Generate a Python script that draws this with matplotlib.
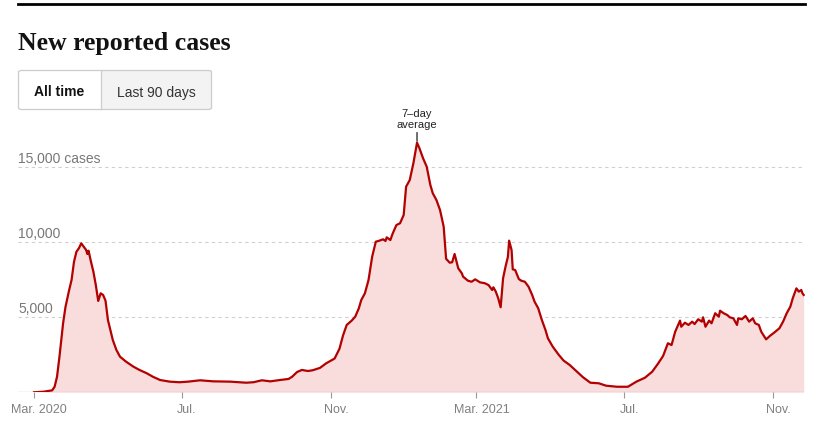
import matplotlib
matplotlib.use("Agg")
import matplotlib.pyplot as plt
import matplotlib.transforms as mtransforms
from matplotlib.lines import Line2D
from matplotlib.patches import FancyBboxPatch, Rectangle
import pandas as pd

# ---- data ----
start_date = "2020-03-01"
day_offsets = [
    0, 8, 15, 17, 19, 21, 24, 26, 29, 31, 33, 35, 37, 39, 41, 43, 44, 45, 47, 49,
    51, 53, 55, 57, 59, 61, 63, 65, 68, 71, 76, 82, 87, 93, 98, 104, 112, 120, 127,
    137, 148, 162, 175, 181, 188, 195, 203, 210, 213, 217, 221, 226, 230, 236, 241,
    248, 252, 255, 258, 262, 265, 268, 270, 273, 276, 279, 282, 285, 288, 290, 291,
    294, 296, 299, 302, 305, 307, 310, 313, 316, 318, 321, 324, 327, 329, 332, 335,
    338, 340, 343, 345, 347, 350, 353, 354, 358, 361, 364, 368, 372, 375, 378, 379,
    381, 383, 385, 387, 389, 391, 392, 394, 395, 397, 400, 402, 405, 408, 411, 413,
    416, 419, 422, 424, 428, 433, 437, 442, 448, 453, 459, 466, 472, 481, 490, 497,
    504, 510, 515, 519, 523, 526, 529, 533, 534, 537, 540, 543, 545, 548, 551, 552,
    554, 557, 559, 562, 565, 566, 569, 572, 574, 577, 580, 581, 584, 587, 590, 593,
    595, 598, 600, 604, 607, 611, 615, 618, 621, 624, 626, 629, 631, 633, 634, 635,
]
avg_cases = [
    0, 40, 130, 370, 1040, 2370, 4600, 5700, 6820, 7490, 8700, 9370, 9600, 9930,
    9710, 9490, 9220, 9440, 8710, 8040, 7150, 6090, 6600, 6490, 6110, 4820, 4150,
    3490, 2820, 2370, 2040, 1710, 1490, 1270, 1040, 820, 710, 670, 710,
    800, 730, 710, 640, 670, 800, 730, 820, 890, 1040, 1350, 1490, 1420, 1470, 1630,
    1930, 2250, 2900, 3800, 4490, 4770, 5040, 5600, 6150, 6600, 7490, 9040, 10040,
    10110, 10200, 10090, 10330, 10150, 10600, 11150, 11270, 11820, 13710, 14150,
    15270, 16640, 16270, 15600, 15040, 13820, 13270, 12820, 12150, 11040, 8900,
    8640, 8670, 9220, 8270, 7930, 7710, 7440, 7370, 7530, 7330, 7270, 7150, 6820,
    7000, 6710, 6270, 5670, 7600, 8370, 9040, 10110, 9490, 8200, 8150, 7550, 7440,
    7370, 7040, 6490, 6040, 5600, 4820, 4150, 3600, 3040, 2490, 2110, 1820, 1370,
    1000, 640, 600, 440, 370, 370, 710, 970, 1370, 1930, 2420, 3270, 3150, 4040,
    4780, 4370, 4640, 4490, 4710, 4550, 4870, 4710, 5000, 4370, 4780, 4600, 5270,
    5040, 5440, 5270, 5150, 5000, 4930, 4490, 4930, 4870, 5090, 4710, 4930, 4600,
    4490, 4040, 3530, 3750, 4000, 4270, 4710, 5270, 5710, 6270, 6930, 6710, 6820,
    6600, 6490,
]
y_ticks = [5000, 10000, 15000]
y_tick_labels = ["5,000", "10,000", "15,000 cases"]
x_tick_dates = ["2020-03-01", "2020-07-01", "2020-11-01", "2021-03-01", "2021-07-01", "2021-11-01"]
x_tick_labels = ["Mar. 2020", "Jul.", "Nov.", "Mar. 2021", "Jul.", "Nov."]
title = "New reported cases"
buttons = ["All time", "Last 90 days"]
annotation_text = "7\u2013day\naverage"

dates = pd.Timestamp(start_date) + pd.to_timedelta(day_offsets, unit="D")

# ---- figure ----
W, H = 818, 424
fig = plt.figure(figsize=(W / 100, H / 100), dpi=100)
fig.patch.set_facecolor("white")

def fx(px):
    return px / W

def fy(py):
    return 1 - py / H

SANS = ["Liberation Sans", "DejaVu Sans"]

# top rule
fig.add_artist(Line2D([fx(18), fx(805)], [fy(3.5), fy(3.5)], color="black", lw=2.0,
                      transform=fig.transFigure))
# title
fig.text(fx(18), fy(50), title, family=["Liberation Serif", "DejaVu Serif"],
         fontweight="bold", fontsize=18.5, color="#121212", va="baseline", ha="left")

# buttons
bx0, bx1, bdiv, by0, by1 = 18.5, 211.5, 100.5, 70.5, 109.5
fig.add_artist(Rectangle((fx(bdiv), fy(by1)), fx(bx1 - bdiv), (by1 - by0) / H,
                         transform=fig.transFigure, facecolor="#f3f3f3", edgecolor="none"))
fig.add_artist(FancyBboxPatch((fx(bx0), fy(by1)), fx(bx1 - bx0), (by1 - by0) / H,
                              boxstyle="round,pad=0,rounding_size=0.004",
                              transform=fig.transFigure, facecolor="none",
                              edgecolor="#cccccc", lw=0.9))
fig.add_artist(Line2D([fx(bdiv), fx(bdiv)], [fy(by0), fy(by1)], color="#cccccc", lw=0.9,
                      transform=fig.transFigure))
fig.text(fx((bx0 + bdiv) / 2), fy(96.5), buttons[0], family=SANS, fontweight="bold",
         fontsize=10, color="#121212", ha="center", va="baseline")
fig.text(fx((bdiv + bx1) / 2), fy(96.5), buttons[1], family=SANS,
         fontsize=10, color="#333333", ha="center", va="baseline")

# ---- chart axes ----
base_px, top_px = 392.3, 129.8
ax = fig.add_axes([fx(18), fy(base_px), fx(805 - 18), (base_px - top_px) / H])
ax.set_facecolor("none")
x0 = pd.Timestamp(start_date) - pd.Timedelta(days=13.2)
x1 = pd.Timestamp(start_date) + pd.Timedelta(days=636.1)
ax.set_xlim(x0, x1)
ax.set_ylim(0, 17500)

ax.fill_between(dates, avg_cases, 0, color="#f9dcdc", lw=0, zorder=1)
ax.plot(dates, avg_cases, color="#b30000", lw=1.6, solid_joinstyle="round", zorder=3)

for v in y_ticks:
    ax.axhline(v, color="#cfcfcf", lw=0.8, ls=(0, (3, 3)), zorder=0)
ax.axhline(0, color="#cccccc", lw=1.0, zorder=2)

for v, lab in zip(y_ticks, y_tick_labels):
    ax.annotate(lab, xy=(0, v), xycoords=("axes fraction", "data"), xytext=(0, 4),
                textcoords="offset pixels", ha="left", va="baseline",
                family=SANS, fontsize=10, color="#777777")

for s in ax.spines.values():
    s.set_visible(False)
ax.set_yticks([])
ax.set_xticks(pd.to_datetime(x_tick_dates))
ax.set_xticklabels(x_tick_labels, family=SANS, fontsize=9, color="#808080")
ax.tick_params(axis="x", length=4.5, width=0.8, color="#999999", pad=4)
shift = mtransforms.ScaledTranslation(5 / 100, 0, fig.dpi_scale_trans)
for lbl in ax.get_xticklabels():
    lbl.set_transform(lbl.get_transform() + shift)

# annotation on peak
peak_i = max(range(len(avg_cases)), key=lambda i: avg_cases[i])
ax.annotate(annotation_text, xy=(dates[peak_i], avg_cases[peak_i]), xytext=(0, 13),
            textcoords="offset pixels", ha="center", va="bottom", family=SANS,
            fontsize=8, color="#222222", linespacing=1.05,
            arrowprops=dict(arrowstyle="-", color="black", lw=0.8, shrinkA=0, shrinkB=1))

fig.savefig("out.png", dpi=100, facecolor="white")
